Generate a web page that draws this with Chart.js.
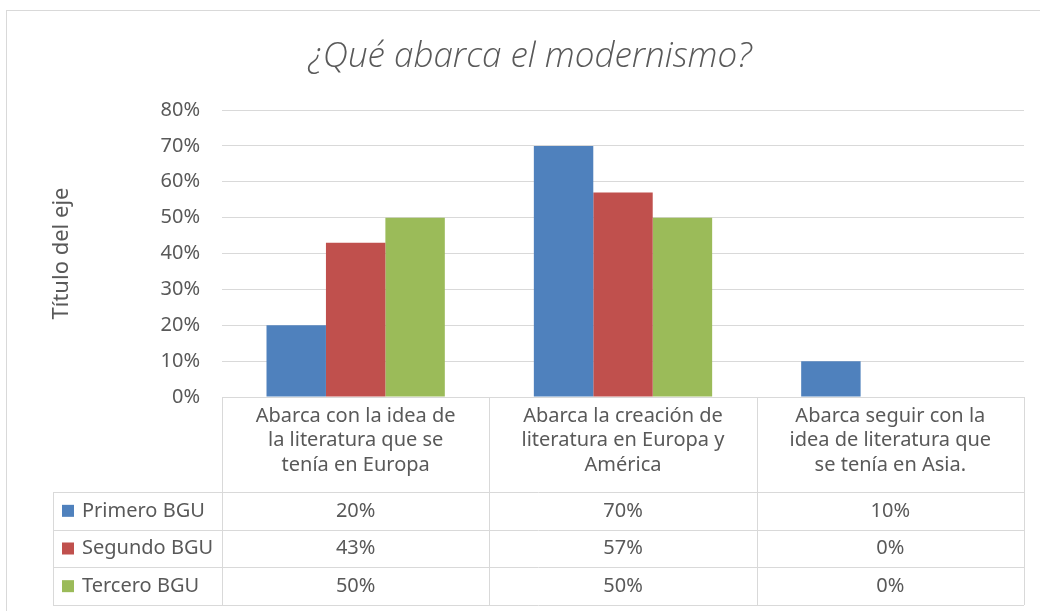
<!DOCTYPE html>
<html>
<head>
<meta charset="utf-8">
<script src="https://cdn.jsdelivr.net/npm/chart.js@4.4.1/dist/chart.umd.min.js"></script>
<style>
  html, body { margin: 0; padding: 0; background: #fff; }
  #wrap { width: 1040px; height: 611px; }
</style>
</head>
<body>
<div id="wrap"><canvas id="chart"></canvas></div>
<script>
// categories (already wrapped the way the table shows them)
const categories = [
  ['Abarca con la idea de', 'la literatura que se', 'tenía en Europa'],
  ['Abarca la creación de', 'literatura en Europa y', 'América'],
  ['Abarca seguir con la', 'idea de literatura que', 'se tenía en Asia.']
];
const seriesNames = ['Primero BGU', 'Segundo BGU', 'Tercero BGU'];
const primero = [20, 70, 10];
const segundo = [43, 57, 0];
const tercero = [50, 50, 0];
const seriesColors = ['#4F81BD', '#C0504D', '#9BBB59'];
const yMax = 80;
const yStep = 10;

const textColor = '#595959';
const lineColor = '#D9D9D9';
const fontFamily = "'Noto Sans', 'Liberation Sans', sans-serif";

const allSeries = [primero, segundo, tercero];

// draws the outer frame and the data table under the plot
const dataTable = {
  id: 'dataTable',
  beforeDraw(chart) {
    const c = chart.ctx;
    c.save();
    c.strokeStyle = lineColor;
    c.lineWidth = 1;
    c.strokeRect(6.5, 10.5, 1200, 800);
    c.restore();
  },
  afterDraw(chart) {
    const c = chart.ctx;
    const x = chart.scales.x;
    const area = chart.chartArea;
    const step = x.getPixelForValue(1) - x.getPixelForValue(0);
    const edges = categories.map((_, i) => x.getPixelForValue(i) - step / 2);
    edges.push(x.getPixelForValue(categories.length - 1) + step / 2);

    const top = area.bottom;
    const headH = 95;
    const bottom = x.bottom;
    const rowH = (bottom - top - headH) / allSeries.length;
    const legLeft = 53;

    c.save();
    c.strokeStyle = lineColor;
    c.lineWidth = 1;
    c.beginPath();
    // top line under bars
    c.moveTo(edges[0], top + 0.5);
    c.lineTo(edges[edges.length - 1], top + 0.5);
    // row lines
    for (let r = 0; r <= allSeries.length; r++) {
      const y = Math.round(top + headH + r * rowH) + 0.5;
      c.moveTo(legLeft, y);
      c.lineTo(edges[edges.length - 1], y);
    }
    // column lines
    edges.forEach(ex => {
      c.moveTo(Math.round(ex) + 0.5, top);
      c.lineTo(Math.round(ex) + 0.5, bottom);
    });
    c.moveTo(legLeft + 0.5, top + headH);
    c.lineTo(legLeft + 0.5, bottom);
    c.stroke();

    c.fillStyle = textColor;
    c.font = '20px ' + fontFamily;
    c.textAlign = 'center';
    c.textBaseline = 'middle';
    // category headers
    categories.forEach((lines, i) => {
      const cx = x.getPixelForValue(i);
      lines.forEach((ln, k) => {
        c.fillText(ln, cx, top + 19 + k * 24.5);
      });
    });
    // values
    allSeries.forEach((vals, r) => {
      const cy = top + headH + r * rowH + rowH / 2;
      vals.forEach((v, i) => {
        c.fillText(v + '%', x.getPixelForValue(i), cy);
      });
      // legend cell
      c.fillStyle = seriesColors[r];
      c.fillRect(legLeft + 9, cy - 6, 12, 12);
      c.fillStyle = textColor;
      c.textAlign = 'left';
      c.fillText(seriesNames[r], legLeft + 29, cy);
      c.textAlign = 'center';
    });
    c.restore();
  }
};

new Chart(document.getElementById('chart'), {
  type: 'bar',
  data: {
    labels: categories,
    datasets: allSeries.map((vals, i) => ({
      label: seriesNames[i],
      data: vals,
      backgroundColor: seriesColors[i],
      borderWidth: 0,
      categoryPercentage: 0.667,
      barPercentage: 1
    }))
  },
  options: {
    responsive: true,
    maintainAspectRatio: false,
    animation: false,
    layout: {
      padding: { left: 36, right: 16, top: 0, bottom: 6 }
    },
    plugins: {
      legend: { display: false },
      tooltip: { enabled: false },
      title: {
        display: true,
        text: '¿Qué abarca el modernismo?',
        color: textColor,
        font: { family: "'Open Sans', sans-serif", size: 35, style: 'italic', weight: '300', lineHeight: 1.2 },
        padding: { top: 36, bottom: 32 }
      }
    },
    scales: {
      x: {
        grid: { display: false },
        border: { display: false },
        ticks: { display: false },
        afterFit(scale) { scale.height = 208; }
      },
      y: {
        min: 0,
        max: yMax,
        ticks: {
          stepSize: yStep,
          color: textColor,
          padding: 22,
          font: { family: fontFamily, size: 20 },
          callback: v => v + '%'
        },
        grid: { color: lineColor, lineWidth: 1, drawTicks: false },
        border: { display: false },
        title: {
          display: true,
          text: 'Título del eje',
          color: textColor,
          font: { family: fontFamily, size: 22 },
          padding: { top: 13 }
        },
        afterFit(scale) { scale.width = 186; }
      }
    }
  },
  plugins: [dataTable]
});
</script>
</body>
</html>
